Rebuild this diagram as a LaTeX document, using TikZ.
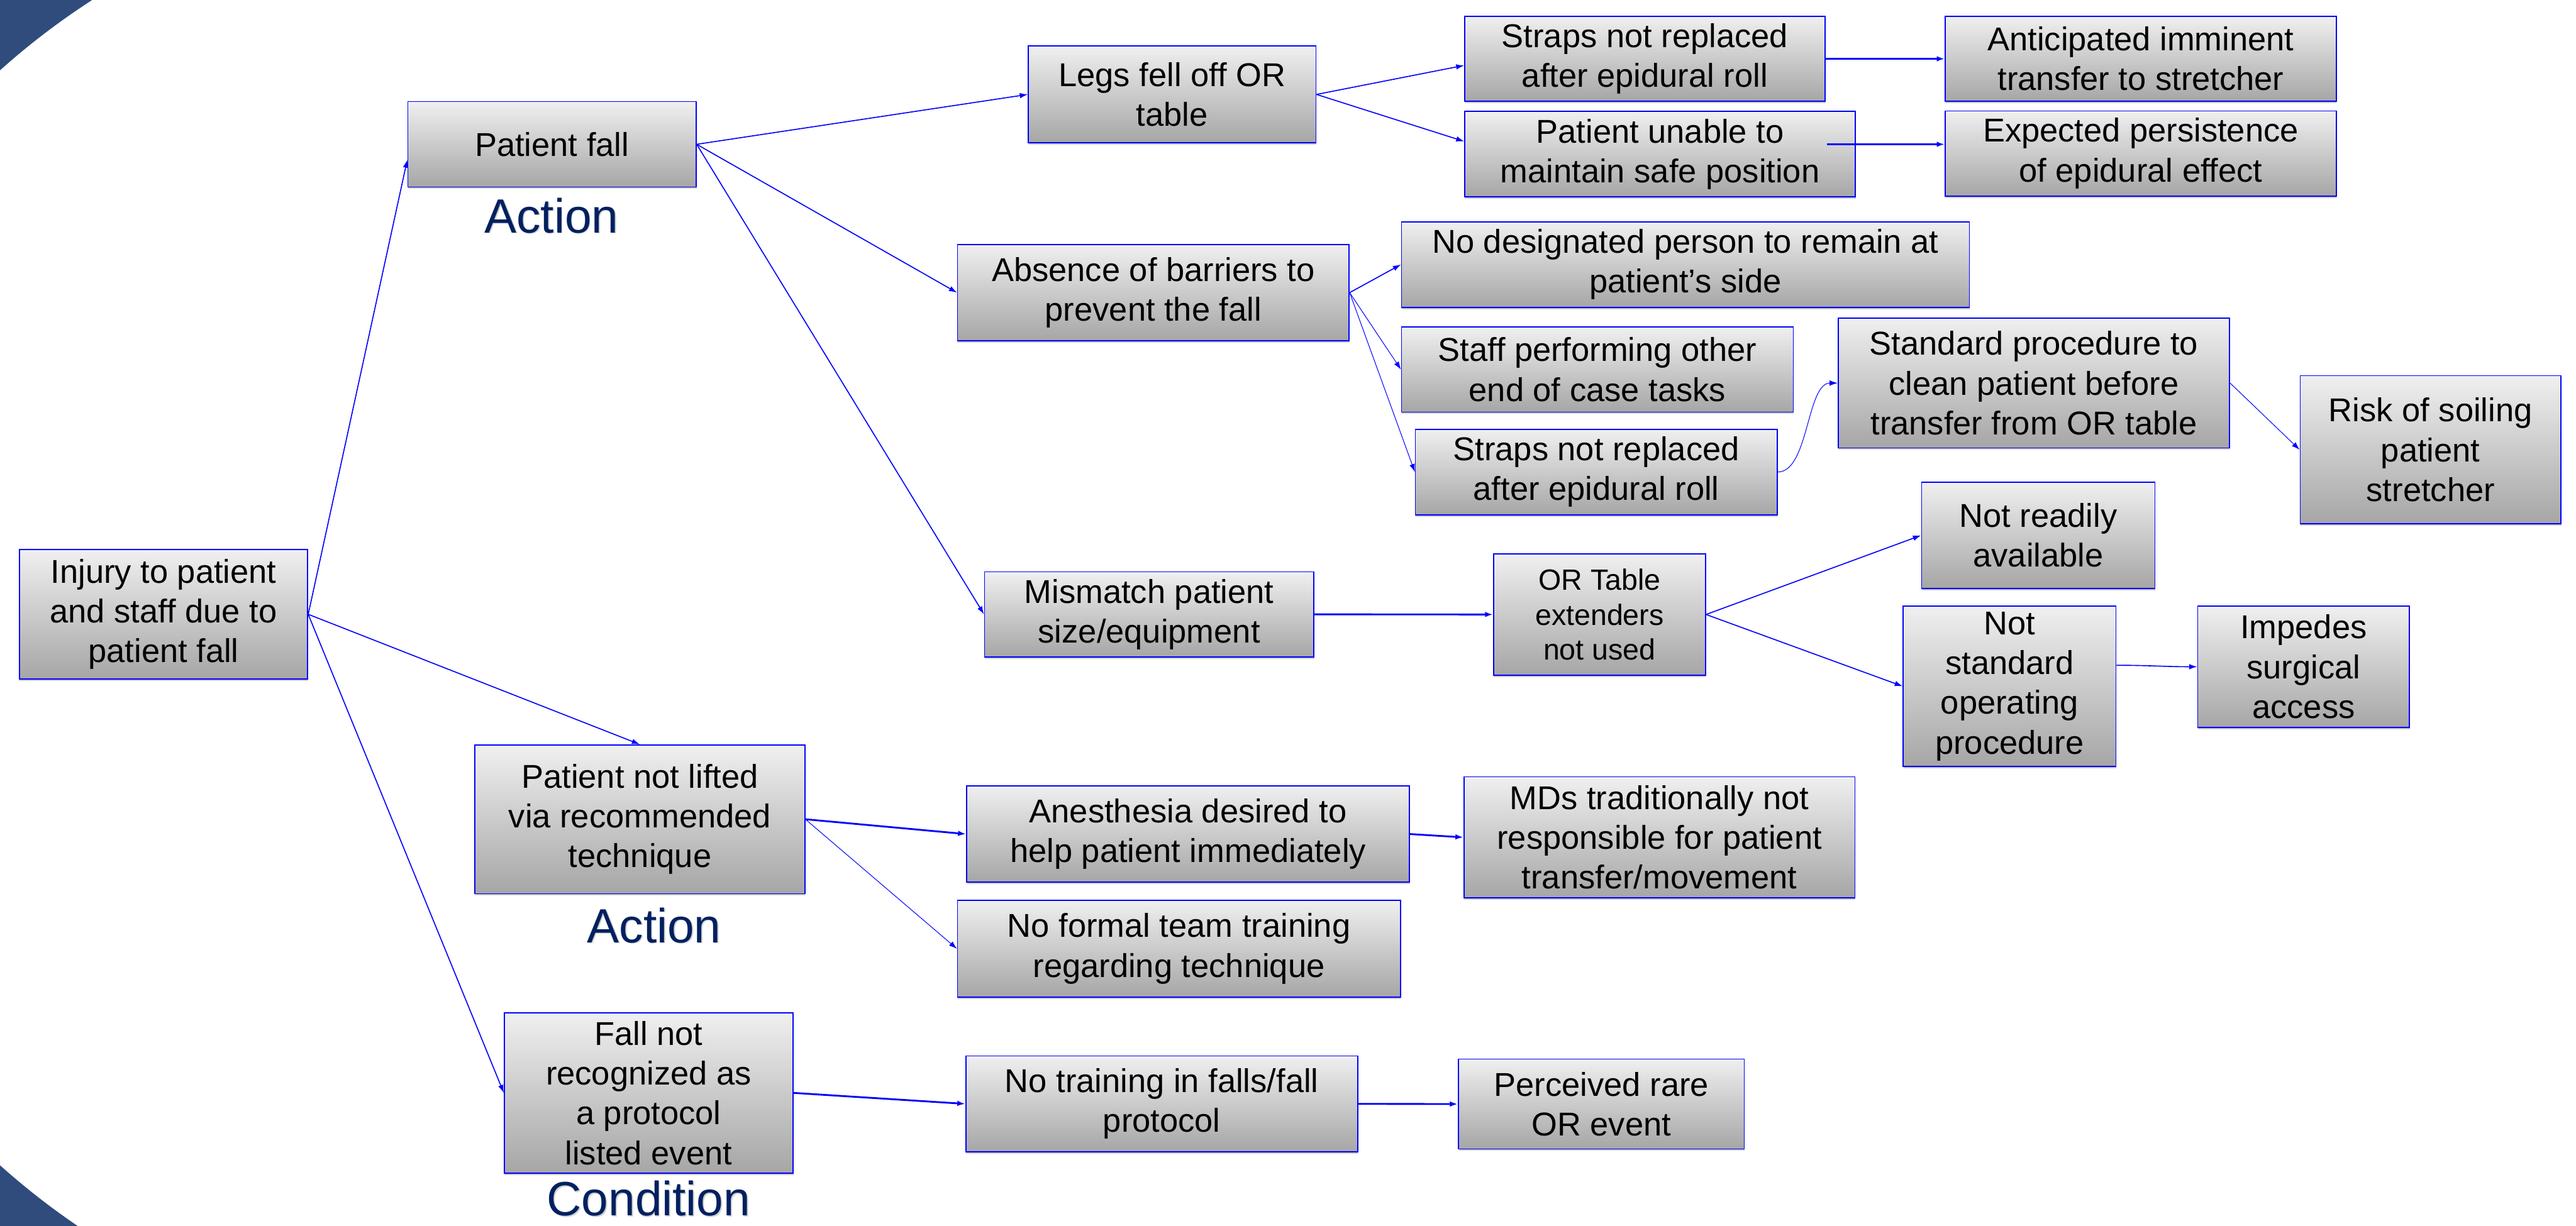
\documentclass[tikz,border=0pt]{standalone}
\usepackage{fontspec}
\setmainfont{Liberation Sans}
\usetikzlibrary{arrows.meta,shadows}
\definecolor{bgblue}{RGB}{47,76,125}
\definecolor{navy}{RGB}{0,32,96}
\definecolor{lineblue}{RGB}{0,0,255}
\tikzset{
  box/.style={draw=lineblue, line width=0.8pt, top color=black!6, bottom color=black!35,
    align=center, inner sep=0pt, font=\fontsize{25.7}{31}\selectfont,
    drop shadow={shadow xshift=0.01cm, shadow yshift=-0.05cm, opacity=0.3, fill=black!70}},
  smallbox/.style={box, font=\fontsize{22.8}{27.2}\selectfont},
  arr/.style={draw=lineblue, line width=0.8pt, -{Latex[length=0.22cm,width=0.15cm]}},
  arrthick/.style={arr, line width=1.4pt},
  arrthin/.style={arr, line width=0.5pt},
  lab/.style={text=navy, font=\fontsize{37.5}{40}\selectfont, anchor=base, inner sep=0pt},
  labshadow/.style={text=black!30, font=\fontsize{37.5}{40}\selectfont, anchor=base, inner sep=0pt, opacity=0.6}
}
\begin{document}
\begin{tikzpicture}
\useasboundingbox (0,0) rectangle (70.49,-33.55);
% background arcs
\begin{scope}
  \clip (0,0) rectangle (13.41,-33.55);
  \fill[bgblue, even odd rule] (-10,5) rectangle (40,-40) (13.41,-16.91) circle (20.11);
\end{scope}

% nodes
\node[box, minimum width=7.89cm, minimum height=3.55cm] (inj) at (4.475,-16.815) {Injury to patient\\and staff due to\\patient fall};
\node[box, minimum width=7.89cm, minimum height=2.34cm] (pf) at (15.105,-3.95) {Patient fall};
\node[box, minimum width=7.87cm, minimum height=2.65cm] (legs) at (32.075,-2.585) {Legs fell off OR\\table};
\node[box, minimum width=9.86cm, minimum height=2.33cm] (st1) at (45.01,-1.61) {Straps not replaced\\after epidural roll};
\node[box, minimum width=10.69cm, minimum height=2.34cm] (pu) at (45.425,-4.22) {Patient unable to\\maintain safe position};
\node[box, minimum width=10.70cm, minimum height=2.33cm] (ant) at (58.58,-1.61) {Anticipated imminent\\transfer to stretcher};
\node[box, minimum width=10.70cm, minimum height=2.33cm] (exp) at (58.58,-4.20) {Expected persistence\\of epidural effect};
\node[box, minimum width=10.715cm, minimum height=2.64cm] (abs) at (31.56,-8.01) {Absence of barriers to\\prevent the fall};
\node[box, minimum width=15.54cm, minimum height=2.34cm] (nd) at (46.12,-7.24) {No designated person to remain at\\patient’s side};
\node[box, minimum width=10.72cm, minimum height=2.33cm] (staff) at (43.71,-10.115) {Staff performing other\\end of case tasks};
\node[box, minimum width=9.90cm, minimum height=2.34cm] (st2) at (43.68,-12.92) {Straps not replaced\\after epidural roll};
\node[box, minimum width=10.71cm, minimum height=3.55cm] (sp) at (55.655,-10.485) {Standard procedure to\\clean patient before\\transfer from OR table};
\node[box, minimum width=7.14cm, minimum height=4.055cm] (risk) at (66.51,-12.31) {Risk of soiling\\patient\\stretcher};
\node[box, minimum width=9.01cm, minimum height=2.33cm] (mis) at (31.445,-16.815) {Mismatch patient\\size/equipment};
\node[smallbox, minimum width=5.80cm, minimum height=3.32cm] (ort) at (43.77,-16.82) {OR Table\\extenders\\not used};
\node[box, minimum width=6.39cm, minimum height=2.90cm] (nr) at (55.775,-14.655) {Not readily\\available};
\node[box, minimum width=5.82cm, minimum height=4.39cm] (ns) at (54.99,-18.785) {Not\\standard\\operating\\procedure};
\node[box, minimum width=5.79cm, minimum height=3.315cm] (imp) at (63.035,-18.25) {Impedes\\surgical\\access};
\node[box, minimum width=9.03cm, minimum height=4.07cm] (pnl) at (17.51,-22.425) {Patient not lifted\\via recommended\\technique};
\node[box, minimum width=12.12cm, minimum height=2.635cm] (anes) at (32.51,-22.83) {Anesthesia desired to\\help patient immediately};
\node[box, minimum width=10.70cm, minimum height=3.316cm] (mds) at (45.41,-22.92) {MDs traditionally not\\responsible for patient\\transfer/movement};
\node[box, minimum width=12.12cm, minimum height=2.646cm] (nf) at (32.26,-25.97) {No formal team training\\regarding technique};
\node[box, minimum width=7.90cm, minimum height=4.39cm] (fnr) at (17.75,-29.915) {Fall not\\recognized as\\a protocol\\listed event};
\node[box, minimum width=10.72cm, minimum height=2.63cm] (nt) at (31.79,-30.215) {No training in falls/fall\\protocol};
\node[box, minimum width=7.825cm, minimum height=2.46cm] (per) at (43.82,-30.22) {Perceived rare\\OR event};

% category labels
\node[labshadow] (a1s) at (15.12,-6.40) {Action};
\node[lab] (a1) at (15.09,-6.37) {Action};
\node[labshadow] (a2s) at (17.93,-25.83) {Action};
\node[lab] (a2) at (17.90,-25.80) {Action};
\node[labshadow] (c1s) at (17.78,-33.30) {Condition};
\node[lab] (c1) at (17.75,-33.27) {Condition};

% connectors
\draw[arr] (inj.east) -- ([yshift=-0.42cm]pf.west);
\draw[arr] (inj.east) -- (pnl.north);
\draw[arr] (inj.east) -- (fnr.west);
\draw[arr] (pf.east) -- (legs.west);
\draw[arr] (pf.east) -- (abs.west);
\draw[arr] (pf.east) -- (mis.west);
\draw[arr] (legs.east) -- ([yshift=-0.18cm]st1.west);
\draw[arr] (legs.east) -- ([yshift=0.35cm]pu.west);
\draw[arrthick] (st1.east) -- (ant.west);
\coordinate (puout) at ([xshift=-0.79cm,yshift=0.27cm]pu.east);
\draw[arrthick] (puout) -- (puout -| exp.west);
\draw[arr] (abs.east) -- (nd.west);
\draw[arrthin] (abs.east) -- (staff.west);
\draw[arrthin] (abs.east) -- (st2.west);
\draw[arrthin] (st2.east) .. controls +(0.85,0) and +(-0.85,0) .. (sp.west);
\draw[arrthin] (sp.east) -- (risk.west);
\draw[arrthick] (mis.east) -- (ort.west);
\draw[arr] (ort.east) -- (nr.west);
\draw[arr] (ort.east) -- (ns.west);
\draw[arr] ([yshift=0.575cm]ns.east) to[out=0,in=180] (imp.west);
\draw[arrthick] (pnl.east) -- (anes.west);
\draw[arrthin] (pnl.east) -- (nf.west);
\draw[arrthick] (anes.east) -- (mds.west);
\draw[arrthick] (fnr.east) -- (nt.west);
\draw[arrthick] (nt.east) -- (per.west);
\end{tikzpicture}
\end{document}
